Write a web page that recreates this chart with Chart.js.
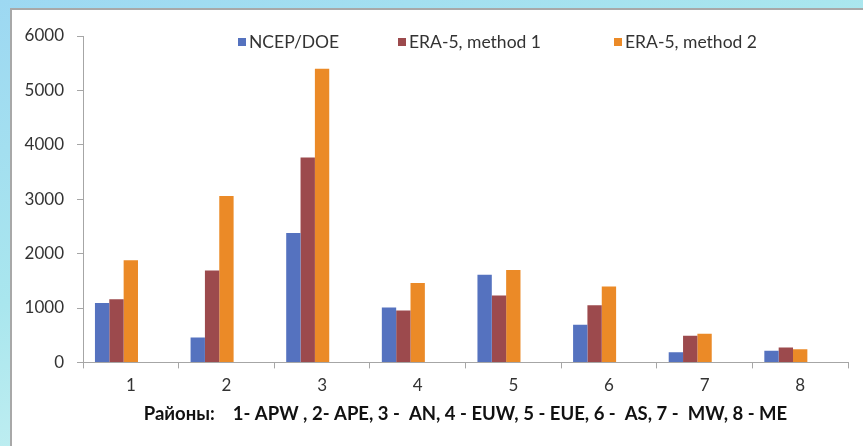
<!DOCTYPE html>
<html>
<head>
<meta charset="utf-8">
<script src="https://cdn.jsdelivr.net/npm/chart.js@4"></script>
<style>
  body {
    margin: 0;
    width: 863px;
    height: 446px;
    overflow: hidden;
    background: linear-gradient(160deg, #9dd8f2 0%, #a9e6ee 40%, #c8f1f2 70%, #dff7f5 100%);
    font-family: Lato, "Open Sans", sans-serif;
  }
  #panel {
    position: absolute;
    left: 10px;
    top: 8px;
    right: 0;
    bottom: 0;
    background: #fff;
    border-left: 2px solid #a8a8a8;
    border-top: 2px solid #a8a8a8;
  }
  #chart-box {
    position: absolute;
    left: 12px;
    top: 10px;
    width: 851px;
    height: 436px;
  }
  .legend-item {
    position: absolute;
    top: 31px;
    display: flex;
    align-items: center;
    font-size: 17.5px;
    color: #333;
    white-space: nowrap;
  }
  .legend-box { width: 8px; height: 8px; margin-right: 3px; }
</style>
</head>
<body>
<div id="panel"></div>
<div id="chart-box"><canvas id="regionChart"></canvas></div>
<div id="legend"></div>
<script>
// categories (regions) and values
const regions = ["1", "2", "3", "4", "5", "6", "7", "8"];
const ncepDoe = [1090, 460, 2380, 1010, 1610, 690, 185, 215];
const era5Method1 = [1160, 1690, 3765, 955, 1230, 1050, 490, 275];
const era5Method2 = [1880, 3060, 5400, 1460, 1700, 1395, 525, 240];
const yTicks = [0, 1000, 2000, 3000, 4000, 5000, 6000];
const axisTitle = "Районы:    1- APW , 2- APE, 3 -  AN, 4 - EUW, 5 - EUE, 6 -  AS, 7 -  MW, 8 - ME";

const axisColor = "#a6a6a6";
const textColor = "#333333";
// left edge of each legend entry
const legendLefts = [238, 398, 614];

// two empty series keep the bar groups left of the category centre, like the original
const datasets = [
  { label: "NCEP/DOE", data: ncepDoe, backgroundColor: "#5572bf" },
  { label: "ERA-5, method 1", data: era5Method1, backgroundColor: "#9c4a4d" },
  { label: "ERA-5, method 2", data: era5Method2, backgroundColor: "#eb8a27" },
  { label: "", data: [], backgroundColor: "transparent", spacer: true },
  { label: "", data: [], backgroundColor: "transparent", spacer: true },
];

const ctx = document.getElementById("regionChart").getContext("2d");
const chart = new Chart(ctx, {
  type: "bar",
  data: { labels: regions, datasets },
  options: {
    responsive: true,
    maintainAspectRatio: false,
    animation: false,
    categoryPercentage: 0.75,
    barPercentage: 1,
    layout: { padding: { top: 26, right: 15, left: 0, bottom: 0 } },
    plugins: {
      legend: { display: false },
      tooltip: { enabled: false },
    },
    scales: {
      x: {
        grid: {
          offset: true,
          drawOnChartArea: false,
          color: axisColor,
          tickLength: 6,
        },
        border: { color: axisColor, width: 1 },
        ticks: {
          color: textColor,
          padding: 7,
          font: { family: "Lato", size: 17 },
        },
        title: {
          display: true,
          text: axisTitle,
          color: "#111",
          font: { family: "Lato", size: 18.5, weight: "bold" },
          padding: { top: 0, bottom: 21 },
        },
      },
      y: {
        min: 0,
        max: 6000,
        afterBuildTicks: (scale) => {
          scale.ticks = yTicks.map((v) => ({ value: v }));
        },
        afterFit: (scale) => {
          scale.width = 71;
        },
        grid: {
          drawOnChartArea: false,
          color: axisColor,
          tickLength: 6,
        },
        border: { color: axisColor, width: 1 },
        ticks: {
          color: textColor,
          padding: 13,
          font: { family: "Lato", size: 17 },
          callback: (value) => String(value),
        },
      },
    },
  },
});

// html legend built from the real series
const legendEl = document.getElementById("legend");
chart.data.datasets
  .filter((ds) => !ds.spacer)
  .forEach((ds, i) => {
    const item = document.createElement("div");
    item.className = "legend-item";
    item.style.left = legendLefts[i] + "px";
    item.innerHTML = `<span class="legend-box" style="background:${ds.backgroundColor}"></span><span>${ds.label}</span>`;
    legendEl.appendChild(item);
  });
</script>
</body>
</html>
